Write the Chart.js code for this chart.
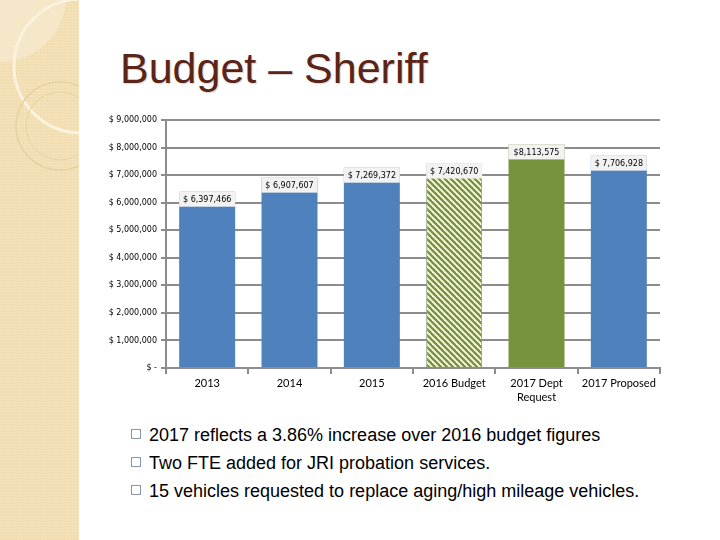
<!DOCTYPE html>
<html>
<head>
<meta charset="utf-8">
<script src="https://cdn.jsdelivr.net/npm/chart.js@4.4.1/dist/chart.umd.min.js"></script>
<style>
  html, body { margin: 0; padding: 0; width: 720px; height: 540px; background: #ffffff; overflow: hidden; }
  #panel { position: absolute; left: 0; top: 0; width: 79px; height: 540px; }
  #title { position: absolute; left: 120px; top: 42px; margin: 0; font-family: "Liberation Sans", Arial, sans-serif;
           font-size: 43px; font-weight: normal; color: #5a2418; line-height: 52px; white-space: nowrap;
           text-shadow: 1px 1px 1px rgba(120,80,60,0.25); }
  #chartBox { position: absolute; left: 0; top: 100px; width: 720px; height: 320px; }
  ul#notes { position: absolute; left: 0; top: 421px; margin: 0; padding: 0; list-style: none;
             font-family: "Liberation Sans", Arial, sans-serif; font-size: 18px; color: #000; }
  ul#notes li { position: relative; height: 28px; line-height: 28px; padding-left: 149px; white-space: nowrap; }
  ul#notes li::before { content: ""; position: absolute; left: 131px; top: 8px; width: 8px; height: 8px;
                        border: 1px solid #8a96a8; }
</style>
</head>
<body>
<svg id="panel" width="79" height="540" viewBox="0 0 79 540">
  <defs>
    <pattern id="dots" width="3" height="3" patternUnits="userSpaceOnUse">
      <rect width="3" height="3" fill="#f2dfb3"/>
      <rect width="1" height="1" fill="#f6e8c6"/>
      <rect x="1.5" y="1.5" width="1" height="1" fill="#eedaad"/>
    </pattern>
  </defs>
  <rect width="79" height="540" fill="url(#dots)"/>
  <path d="M0,62 A66,66 0 0 0 66,0 L0,0 Z" fill="#f6ead0" opacity="0.7"/>
  <circle cx="81" cy="66" r="67" fill="none" stroke="#faf2de" stroke-width="3"/>
  <circle cx="60" cy="126" r="44" fill="none" stroke="#e6d2a4" stroke-width="1.5"/>
  <circle cx="60" cy="126" r="34" fill="none" stroke="#e6d2a4" stroke-width="1"/>
</svg>
<h1 id="title">Budget – Sheriff</h1>
<div id="chartBox"><canvas id="c" width="720" height="320"></canvas></div>
<ul id="notes">
  <li>2017 reflects a 3.86% increase over 2016 budget figures</li>
  <li>Two FTE added for JRI probation services.</li>
  <li>15 vehicles requested to replace aging/high mileage vehicles.</li>
</ul>
<script>
// ---- data ----
const categories = ['2013', '2014', '2015', '2016 Budget', ['2017 Dept', 'Request'], '2017 Proposed'];
const budgetValues = [6397466, 6907607, 7269372, 7420670, 8113575, 7706928];
const valueLabels = ['$ 6,397,466', '$ 6,907,607', '$ 7,269,372', '$ 7,420,670', '$8,113,575', '$ 7,706,928'];
const yTickValues = [0, 1000000, 2000000, 3000000, 4000000, 5000000, 6000000, 7000000, 8000000, 9000000];

// ---- styling ----
const BLUE = '#4f81bd';
const GREEN = '#77933c';
function hatch() {
  const t = document.createElement('canvas');
  t.width = 6; t.height = 6;
  const g = t.getContext('2d');
  g.fillStyle = '#fbfbe8';
  g.fillRect(0, 0, 6, 6);
  g.strokeStyle = GREEN;
  g.lineWidth = 2.4;
  for (let k = -1; k <= 1; k++) {
    g.beginPath();
    g.moveTo(k * 6 - 1, -1);
    g.lineTo(k * 6 + 7, 7);
    g.stroke();
  }
  return document.getElementById('c').getContext('2d').createPattern(t, 'repeat');
}
const barColors = [BLUE, BLUE, BLUE, hatch(), GREEN, BLUE];

const valueBoxes = {
  id: 'valueBoxes',
  afterDatasetsDraw(chart) {
    const ctx = chart.ctx;
    const meta = chart.getDatasetMeta(0);
    ctx.save();
    meta.data.forEach((bar, i) => {
      const w = bar.width;
      const x0 = bar.x - w / 2;
      const y0 = bar.y;
      ctx.fillStyle = '#f2f2f2';
      ctx.fillRect(x0, y0, w, 15);
      ctx.fillStyle = '#000';
      ctx.font = '8px "DejaVu Sans"';
      ctx.textAlign = 'center';
      ctx.textBaseline = 'middle';
      ctx.fillText(valueLabels[i], bar.x, y0 + 8);
    });
    ctx.restore();
  }
};

new Chart(document.getElementById('c'), {
  type: 'bar',
  data: {
    labels: categories,
    datasets: [{
      data: budgetValues,
      backgroundColor: barColors,
      borderColor: ['rgba(0,0,0,0)', 'rgba(0,0,0,0)', 'rgba(0,0,0,0)', '#8a9878', 'rgba(0,0,0,0)', 'rgba(0,0,0,0)'],
      borderWidth: [0, 0, 0, 1, 0, 0],
      barPercentage: 0.68,
      categoryPercentage: 1.0
    }]
  },
  options: {
    responsive: false,
    animation: false,
    devicePixelRatio: 1,
    layout: { padding: { left: 100, right: 60, top: 20, bottom: 0 } },
    plugins: { legend: { display: false }, tooltip: { enabled: false }, title: { display: false } },
    scales: {
      x: {
        offset: true,
        afterFit(scale) { scale.height = 52; },
        grid: { offset: true, drawOnChartArea: false, drawTicks: true, tickLength: 6, color: '#8c8c8c', lineWidth: 2 },
        border: { display: true, color: '#8c8c8c', width: 2 },
        ticks: { color: '#000', font: { family: 'Lato', size: 11, lineHeight: 1.3 }, padding: 2, maxRotation: 0, autoSkip: false }
      },
      y: {
        min: 0,
        max: 9000000,
        afterFit(scale) { scale.width = 66; },
        afterBuildTicks(scale) { scale.ticks = yTickValues.map(v => ({ value: v })); },
        grid: { color: '#8c8c8c', lineWidth: 2, drawTicks: true, tickLength: 5 },
        border: { display: true, color: '#8c8c8c', width: 2 },
        ticks: {
          color: '#000',
          padding: 4,
          font: { family: 'DejaVu Sans', size: 8 },
          callback: v => v === 0 ? '$ -' : '$ ' + v.toLocaleString('en-US')
        }
      }
    }
  },
  plugins: [valueBoxes]
});
</script>
</body>
</html>
